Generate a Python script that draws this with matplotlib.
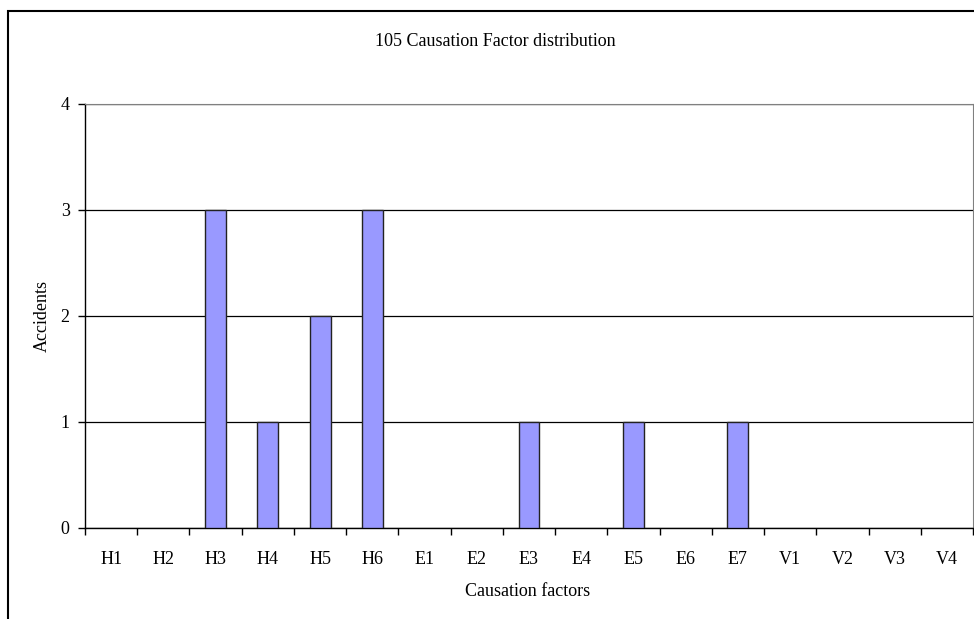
import matplotlib
matplotlib.use("Agg")
from matplotlib import pyplot as plt
from matplotlib.patches import Rectangle
import numpy as np

factors = ['H1', 'H2', 'H3', 'H4', 'H5', 'H6', 'E1', 'E2', 'E3', 'E4',
           'E5', 'E6', 'E7', 'V1', 'V2', 'V3', 'V4']
accidents = [0, 0, 3, 1, 2, 3, 0, 0, 1, 0, 1, 0, 1, 0, 0, 0, 0]

plt.rcParams['font.family'] = ['Liberation Serif', 'DejaVu Serif']

W, H = 974, 619
fig = plt.figure(figsize=(W / 100, H / 100), dpi=100)
ax = fig.add_axes([85 / W, 1 - 528 / H, (973 - 85) / W, (528 - 104) / H])

# outer chart border (right/bottom run off the image)
fig.patches.append(Rectangle((8 / W, -0.1), 1.2, 1 - 11 / H + 0.1,
                             transform=fig.transFigure, fill=False,
                             edgecolor='black', linewidth=1.5))

x = np.arange(len(factors))
edge_w = [1 if v > 0 else 0 for v in accidents]
ax.bar(x, accidents, width=0.4, color='#9999ff', edgecolor='#222222',
       linewidth=edge_w, zorder=3)

ax.set_xlim(-0.5, len(factors) - 0.5)
ax.set_ylim(0, 4)
ax.set_yticks([0, 1, 2, 3, 4])
ax.yaxis.grid(True, color='black', linewidth=0.9, zorder=0)
ax.set_axisbelow(True)

ax.set_xticks(x)
ax.set_xticklabels(factors, fontsize=13)
ax.tick_params(axis='x', which='major', length=0, pad=23)
ax.set_xticks(np.arange(len(factors) + 1) - 0.5, minor=True)
ax.tick_params(axis='x', which='minor', length=5, width=1, direction='out')
ax.tick_params(axis='y', length=5, width=1, direction='out', labelsize=13, pad=6)
for lab in ax.get_xticklabels():
    lab.set_verticalalignment('center')

for s in ['top', 'right']:
    ax.spines[s].set_color('#808080')
for s in ['left', 'bottom']:
    ax.spines[s].set_color('black')
    ax.spines[s].set_linewidth(1)

fig.text(495 / W, 1 - 42 / H, '105 Causation Factor distribution',
         ha='center', va='center', fontsize=13)
fig.text(528 / W, 1 - 592 / H, 'Causation factors',
         ha='center', va='center', fontsize=13)
fig.text(42 / W, 1 - 316 / H, 'Accidents', rotation=90,
         ha='center', va='center', fontsize=13)

fig.savefig('out.png', dpi=100)
